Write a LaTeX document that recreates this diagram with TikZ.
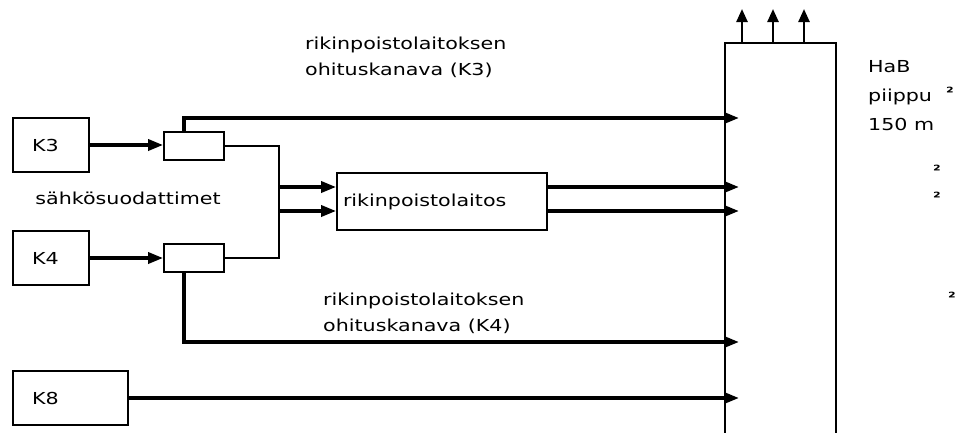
\documentclass[tikz,border=0pt]{standalone}
\usepackage{fontspec}
\setmainfont{DejaVu Sans}[FakeStretch=1.25]
\usetikzlibrary{arrows.meta,positioning}

\tikzset{
  laite/.style={draw, line width=1.8pt, align=left, inner xsep=19pt, inner ysep=0pt, minimum height=54pt},
  suodatin/.style={draw, line width=1.8pt, minimum width=60pt, minimum height=28pt, inner sep=0pt},
  kanava/.style={line width=2.8pt},
  virta/.style={line width=3.4pt, -{Triangle[length=15pt,width=11pt]}},
  ylos/.style={line width=2.4pt, -{Triangle[length=13pt,width=11pt]}},
  teksti/.style={align=left, anchor=north west, inner sep=0pt},
  merkki/.style={font=\fontsize{14}{14}\selectfont\bfseries, inner sep=0pt},
}

\begin{document}
\begin{tikzpicture}[x=1pt, y=-1pt, font=\fontsize{16.5}{26}\selectfont]
\useasboundingbox (0,0) rectangle (959,432);

% Kattilat
\node[laite, text width=38pt] (k3) at (51,145) {K3};
\node[laite, text width=38pt] (k4) at (51,258) {K4};
\node[laite, text width=77pt] (k8) at (70.5,398) {K8};

% Sähkösuodattimet
\node[suodatin] (s3) at (194,146) {};
\node[suodatin] (s4) at (194,258) {};
\node (suod) at (128,198) {sähkösuodattimet};

% Rikinpoistolaitos
\node[draw, line width=1.8pt, minimum width=210pt, minimum height=57pt, align=left, text width=198pt, inner xsep=6pt] (rpl) at (442,201.5) {rikinpoistolaitos};

% Piippu
\coordinate (pva) at (725,440);
\coordinate (poa) at (836,440);
\coordinate (po) at (836,43);
\coordinate (pk) at (739,0); % nuolten kärjet piipussa
\draw[line width=2pt] (pva) |- (po) -- (poa);
\foreach \x in {742,773,804}
  \draw[ylos] (\x,43) -- (\x,9);

% Syötöt suodattimille
\draw[virta] (k3.east) -- (k3.east -| s3.west);
\draw[virta] (k4.east) -- (k4.east -| s4.west);

% Suodattimilta rikinpoistoon
\coordinate (r1) at (279,187);
\coordinate (r2) at (279,211);
\draw[kanava] (s3.east) -| (r1 |- s4.east) -- (s4.east);
\draw[virta] (r1) -- (r1 -| rpl.west);
\draw[virta] (r2) -- (r2 -| rpl.west);
\draw[virta] (rpl.east |- r1) -- (r1 -| pk);
\draw[virta] (rpl.east |- r2) -- (r2 -| pk);

% Ohituskanavat
\draw[virta] ([xshift=-10pt]s3.north) |- (pk |- 0,118);
\draw[virta] ([xshift=-10pt]s4.south) |- (pk |- 0,342);
\draw[virta] (k8.east) -- (k8.east -| pk);

% Tekstit
\node[teksti] (ohi3) at (305,36.5) {rikinpoistolaitoksen\\ohituskanava (K3)};
\node[teksti] (ohi4) at (323,292.5) {rikinpoistolaitoksen\\ohituskanava (K4)};
\node[teksti, font=\fontsize{16.5}{29}\selectfont] (hab) at (868,60) {HaB\\piippu\\150 m};

% Pienet merkit
\node[merkki] (m1) at (950,92) {²};
\node[merkki] (m2) at (937,170) {²};
\node[merkki] (m3) at (937,197) {²};
\node[merkki] (m4) at (952,297) {²};

\end{tikzpicture}
\end{document}
